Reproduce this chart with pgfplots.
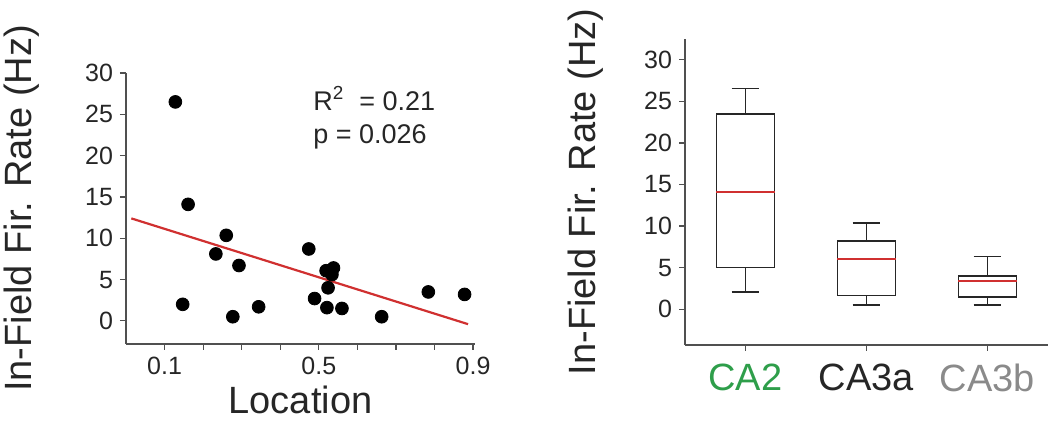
\documentclass[border=0pt]{standalone}
\usepackage{fontspec}
\setmainfont{Liberation Sans}
\usepackage{pgfplots}
\pgfplotsset{compat=1.18}
\usepgfplotslibrary{statistics}
\definecolor{axgray}{HTML}{505050}
\definecolor{fitred}{HTML}{D03030}
\definecolor{catgreen}{HTML}{2E9E4A}
\definecolor{catgray}{HTML}{8A8A8A}

\pgfplotsset{
  panel/.style={
    scale only axis,
    axis x line*=bottom, axis y line*=left,
    axis line style={axgray, line width=0.75pt},
    tick style={axgray, line width=0.6pt},
    tick align=outside,
    major tick length=3pt, minor tick length=3pt,
    /pgf/number format/assume math mode=true,
    tick label style={font=\fontsize{12.5}{14}\selectfont, text=black!85},
    label style={font=\fontsize{19}{21}\selectfont, text=black!85},
  },
}

\begin{document}
\begin{tikzpicture}
\useasboundingbox (0,0) rectangle (527.5pt,210.5pt);

% left: scatter with fit
\begin{axis}[panel,
  at={(63pt,38.5pt)}, anchor=south west,
  width=174.5pt, height=135.5pt,
  xmin=0, xmax=0.905, ymin=-2.8, ymax=30,
  xtick={0.1,0.5,0.9},
  xticklabels={0.1,0.5,0.9},
  minor xtick={0.2,0.3,0.4,0.6,0.7,0.8},
  ytick={0,5,...,30},
  xlabel={Location},
  ylabel={In-Field Fir. Rate (Hz)},
  xlabel style={at={(axis description cs:0.5,-0.207)}, anchor=center},
  ylabel style={at={(axis description cs:-0.298,0.5)}, anchor=center},
]
\addplot[only marks, mark=*, mark size=3.2pt, black] coordinates {
  (0.128,26.5) (0.161,14.1) (0.147,2.0) (0.260,10.35) (0.233,8.1)
  (0.293,6.7) (0.277,0.5) (0.344,1.7) (0.474,8.7) (0.489,2.7)
  (0.519,6.07) (0.538,6.4) (0.534,5.6) (0.524,4.0) (0.521,1.6)
  (0.560,1.5) (0.663,0.5) (0.784,3.5) (0.878,3.2)
};
\addplot[fitred, line width=1.1pt] coordinates {(0.0138,12.4) (0.887,-0.4)};
\node[anchor=north west, align=left, inner sep=0pt, text=black!85,
      font=\fontsize{13.5}{16.5}\selectfont] at (axis cs:0.485,28.4)
  {R\textsuperscript{2}\ \ = 0.21\\p = 0.026};
\end{axis}

% right: box plots
\begin{axis}[panel,
  at={(342.5pt,38pt)}, anchor=south west,
  width=181.5pt, height=153pt,
  xmin=0.5, xmax=3.5, ymin=-4.3, ymax=32.5,
  xtick={1,2,3},
  xticklabels={\textcolor{catgreen}{CA2}, CA3a, \textcolor{catgray}{CA3b}},
  x tick label style={font=\fontsize{19}{21}\selectfont, yshift=-3pt},
  ytick={0,5,...,30},
  ylabel={In-Field Fir. Rate (Hz)},
  ylabel style={at={(axis description cs:-0.275,0.5)}, anchor=center},
  boxplot/draw direction=y,
  boxplot/box extend=0.48,
  boxplot/whisker extend=0.23,
  boxplot/every median/.style={fitred, line width=1.4pt},
]
\addplot[black!85, line width=0.8pt, boxplot prepared={draw position=1,
  median=14.1, upper quartile=23.5, lower quartile=5.0,
  upper whisker=26.55, lower whisker=2.05}] coordinates {};
\addplot[black!85, line width=0.8pt, boxplot prepared={draw position=2,
  median=6.05, upper quartile=8.2, lower quartile=1.65,
  upper whisker=10.35, lower whisker=0.5}] coordinates {};
\addplot[black!85, line width=0.8pt, boxplot prepared={draw position=3,
  median=3.4, upper quartile=3.97, lower quartile=1.5,
  upper whisker=6.35, lower whisker=0.5}] coordinates {};
\end{axis}
\end{tikzpicture}
\end{document}
